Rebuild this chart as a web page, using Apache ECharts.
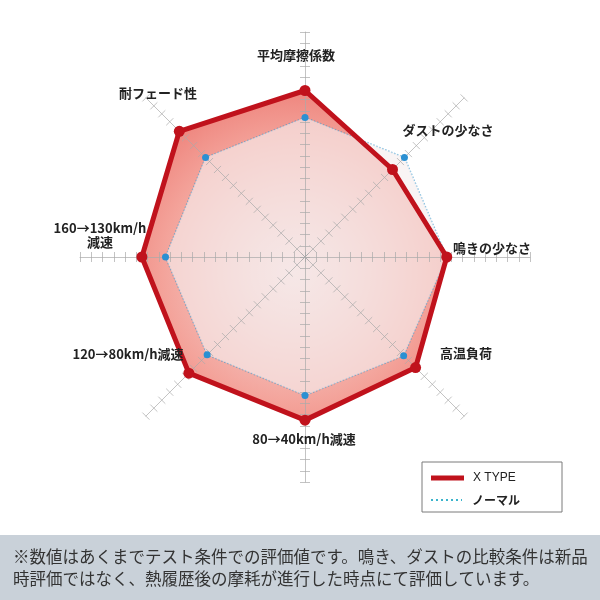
<!DOCTYPE html>
<html>
<head>
<meta charset="utf-8">
<script src="https://cdn.jsdelivr.net/npm/echarts@6/dist/echarts.min.js"></script>
<style>
html,body{margin:0;padding:0;background:#fff;}
#main{width:600px;height:600px;}
</style>
</head>
<body>
<div id="main"></div>
<script>
// ---- data ----
const indicatorNames = ['平均摩擦係数', '耐フェード性', '160→130km/h\n減速', '120→80km/h減速', '80→40km/h減速', '高温負荷', '鳴きの少なさ', 'ダストの少なさ'];
const seriesNames = ['X TYPE', 'ノーマル'];
const xTypeValues = [14.8, 15.8, 14.5, 14.6, 14.5, 13.9, 12.6, 11.0];
const normalValues = [12.4, 12.5, 12.4, 12.3, 12.3, 12.4, 12.6, 12.5];
const axisMax = 20;
const noteLines = ['※数値はあくまでテスト条件での評価値です。鳴き、ダストの比較条件は新品', '時評価ではなく、熱履歴後の摩耗が進行した時点にて評価しています。'];

// ---- layout / style ----
const labelPos = [[296, 55], [158, 93], [100, 235], [128, 354], [304, 439], [466, 353], [492, 248], [448, 130]];
const RED = '#c0121c';
const BLUE_PT = '#2b90d2';
const BLUE_LINE = 'rgba(50,150,205,0.62)';
const JP = '"Noto Sans CJK JP", "Noto Sans", sans-serif';
const center = [305, 257];
const radius = 225;
const TICK = 'rgba(170,170,170,0.7)';

const chart = echarts.init(document.getElementById('main'));
const indicator = indicatorNames.map(n => ({ name: n, min: 0, max: axisMax }));

const radarBase = {
  center: center, radius: radius, startAngle: 90, shape: 'polygon', z: 3,
  splitNumber: axisMax, indicator: indicator,
  axisName: { show: false },
  splitLine: { show: false }, splitArea: { show: false }
};

const graphics = [];
indicatorNames.forEach((n, i) => {
  graphics.push({
    type: 'text', z: 50,
    style: { text: n, x: labelPos[i][0], y: labelPos[i][1], align: 'center', verticalAlign: 'middle',
      font: 'bold 13px ' + JP, fill: '#222', lineHeight: 14 }
  });
});
// legend box
graphics.push({ type: 'rect', z: 50, shape: { x: 422, y: 462, width: 140, height: 50 },
  style: { fill: '#fff', stroke: '#7a7a7a', lineWidth: 1 } });
graphics.push({ type: 'line', z: 51, shape: { x1: 431, y1: 478, x2: 464, y2: 478 },
  style: { stroke: RED, lineWidth: 5 } });
graphics.push({ type: 'line', z: 51, shape: { x1: 431, y1: 500, x2: 462, y2: 500 },
  style: { stroke: '#3ab4cc', lineWidth: 2, lineDash: [2, 3] } });
graphics.push({ type: 'text', z: 51, style: { text: seriesNames[0], x: 473, y: 478, verticalAlign: 'middle', font: '12px "Liberation Sans", Arial, sans-serif', fill: '#222' } });
graphics.push({ type: 'text', z: 51, style: { text: seriesNames[1], x: 472, y: 500, verticalAlign: 'middle', font: 'bold 12px ' + JP, fill: '#222' } });
// note band
graphics.push({ type: 'rect', z: 40, shape: { x: 0, y: 535, width: 600, height: 65 }, style: { fill: '#c9d1d9' } });
noteLines.forEach((t, i) => {
  graphics.push({ type: 'text', z: 41, style: { text: t, x: 13, y: 557 + i * 22, verticalAlign: 'middle', font: '16.5px ' + JP, fill: '#333' } });
});

chart.setOption({
  animation: false,
  backgroundColor: '#fff',
  radar: [
    Object.assign({}, radarBase, {
      axisLine: { show: true, lineStyle: { color: TICK, width: 1 } },
      axisTick: { show: true, length: 5, lineStyle: { color: TICK, width: 1 } }
    }),
    Object.assign({}, radarBase, {
      axisLine: { show: false },
      axisTick: { show: true, length: -5, lineStyle: { color: TICK, width: 1 } }
    })
  ],
  series: [
    {
      type: 'radar', radarIndex: 0, name: seriesNames[0], z: 1, silent: true,
      symbol: 'none', lineStyle: { width: 0 },
      areaStyle: {
        opacity: 1,
        color: { type: 'radial', x: 0.5, y: 0.55, r: 0.62,
          colorStops: [{ offset: 0, color: 'rgba(238,196,194,0.6)' }, { offset: 0.7, color: 'rgba(242,150,140,0.88)' }, { offset: 1, color: 'rgba(236,118,110,0.92)' }] }
      },
      data: [{ value: xTypeValues, name: seriesNames[0] }]
    },
    {
      type: 'radar', radarIndex: 0, name: seriesNames[1], z: 2, silent: true,
      symbol: 'none',
      lineStyle: { color: BLUE_LINE, width: 1.6, type: 'dotted' },
      areaStyle: { color: 'rgba(246,238,238,0.64)', opacity: 1 },
      data: [{ value: normalValues, name: seriesNames[1] }]
    },
    {
      type: 'radar', radarIndex: 0, name: seriesNames[1], z: 4,
      symbol: 'circle', symbolSize: 7,
      itemStyle: { color: BLUE_PT },
      lineStyle: { width: 0, opacity: 0 },
      data: [{ value: normalValues, name: seriesNames[1] }]
    },
    {
      type: 'radar', radarIndex: 0, name: seriesNames[0], z: 4,
      symbol: 'circle', symbolSize: 11,
      itemStyle: { color: RED },
      lineStyle: { color: RED, width: 5 },
      data: [{ value: xTypeValues, name: seriesNames[0] }]
    }
  ],
  graphic: graphics
});
</script>
</body>
</html>
